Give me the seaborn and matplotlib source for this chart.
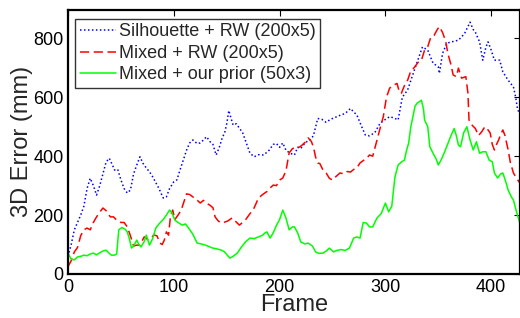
import matplotlib
matplotlib.use("Agg")
import matplotlib.pyplot as plt
import pandas as pd
import seaborn as sns

# values (frame, 3D error in mm)
sil_frames = [0, 3, 6, 9, 12, 15, 18, 21, 24, 27, 30, 33, 36, 39, 42, 44, 47, 50, 53, 56,
              59, 62, 65, 68, 71, 74, 77, 80, 83, 86, 90, 93, 96, 100, 103, 106, 109, 112, 115, 118,
              122, 125, 128, 131, 134, 137, 140, 143, 146, 148, 150, 152, 154, 156, 159, 162, 165, 168, 172, 176,
              180, 185, 190, 194, 197, 200, 203, 206, 210, 214, 217, 220, 223, 226, 229, 232, 236, 240, 244, 248,
              254, 258, 262, 267, 270, 273, 277, 281, 285, 290, 295, 300, 304, 308, 312, 316, 321, 328, 335, 340,
              345, 350, 351, 354, 358, 362, 365, 369, 372, 375, 378, 380, 383, 385, 389, 392, 395, 397, 400, 403,
              408, 411, 416, 421, 423, 425, 427]
sil_err = [60, 100, 150, 175, 200, 230, 290, 325, 300, 268, 300, 340, 380, 393, 370, 353, 355, 320, 290, 275,
           285, 340, 370, 398, 375, 360, 347, 330, 310, 290, 258, 262, 290, 313, 320, 355, 387, 420, 445, 455,
           443, 445, 455, 466, 450, 440, 404, 430, 465, 478, 510, 555, 530, 506, 510, 495, 480, 450, 410, 398,
           405, 404, 420, 440, 443, 430, 445, 420, 410, 404, 430, 426, 440, 450, 455, 470, 528, 525, 515, 525,
           534, 540, 545, 562, 550, 540, 505, 472, 469, 480, 512, 525, 534, 530, 523, 600, 625, 699, 771, 760,
           716, 703, 681, 749, 783, 788, 790, 794, 805, 818, 840, 855, 830, 821, 788, 726, 770, 788, 760, 726,
           726, 686, 658, 635, 602, 557, 546]

rw_frames = [0, 3, 6, 9, 12, 15, 18, 21, 24, 27, 30, 33, 36, 40, 43, 46, 50, 53, 56, 59,
             62, 65, 68, 72, 75, 78, 81, 84, 87, 89, 91, 93, 95, 97, 99, 101, 104, 107, 110, 112,
             115, 118, 122, 125, 128, 131, 134, 137, 139, 142, 145, 148, 151, 155, 158, 162, 165, 168, 172, 176,
             180, 184, 188, 191, 194, 197, 200, 203, 206, 209, 212, 215, 219, 222, 225, 227, 230, 232, 234, 236,
             238, 241, 244, 247, 250, 253, 257, 261, 264, 267, 270, 273, 276, 279, 282, 285, 288, 292, 295, 298,
             301, 304, 307, 311, 313, 315, 318, 321, 324, 327, 331, 334, 337, 340, 343, 346, 349, 351, 354, 357,
             359, 362, 364, 367, 369, 372, 376, 378, 379, 382, 385, 388, 391, 394, 396, 399, 401, 403, 405, 407,
             409, 411, 413, 416, 418, 421, 424, 427]
rw_err = [25, 45, 75, 90, 130, 150, 156, 150, 175, 194, 210, 224, 215, 194, 194, 183, 175, 175, 160, 130,
          95, 98, 98, 126, 118, 120, 132, 130, 105, 100, 115, 143, 132, 200, 217, 185, 200, 217, 250, 272,
          270, 262, 251, 241, 250, 240, 234, 225, 194, 180, 173, 176, 180, 190, 180, 166, 175, 185, 205, 225,
          258, 270, 280, 292, 302, 300, 319, 326, 350, 411, 425, 431, 431, 440, 450, 462, 450, 431, 397, 377,
          375, 353, 343, 325, 319, 330, 343, 340, 348, 346, 355, 360, 377, 385, 392, 404, 400, 455, 495, 534,
          600, 631, 640, 647, 620, 613, 640, 658, 690, 700, 719, 725, 760, 772, 805, 810, 830, 840, 820, 790,
          749, 710, 676, 670, 699, 665, 670, 614, 523, 505, 494, 470, 483, 500, 494, 479, 440, 421, 440, 455,
          475, 489, 470, 421, 380, 343, 325, 309]

prior_frames = [0, 3, 6, 9, 12, 15, 18, 21, 24, 27, 30, 33, 36, 39, 41, 44, 46, 48, 51, 54,
                56, 58, 60, 62, 65, 67, 69, 72, 74, 76, 77, 80, 83, 86, 90, 93, 96, 98, 101, 104,
                108, 111, 114, 118, 122, 126, 130, 134, 137, 141, 145, 148, 151, 153, 156, 160, 164, 168, 172, 176,
                180, 184, 186, 188, 191, 194, 197, 200, 203, 206, 209, 212, 214, 217, 220, 224, 227, 231, 234, 237,
                241, 244, 247, 251, 254, 258, 262, 266, 270, 273, 276, 279, 282, 285, 288, 292, 296, 300, 303, 306,
                309, 312, 315, 318, 320, 322, 324, 326, 328, 330, 334, 336, 337, 340, 342, 345, 348, 350, 353, 356,
                359, 362, 365, 367, 369, 371, 374, 377, 380, 383, 386, 389, 392, 395, 398, 401, 403, 406, 409, 411,
                414, 416, 419, 421, 424, 427]
prior_err = [71, 50, 48, 58, 60, 64, 62, 68, 71, 65, 72, 78, 81, 70, 64, 64, 68, 150, 158, 152,
             143, 120, 88, 95, 115, 100, 92, 110, 132, 110, 98, 120, 156, 170, 185, 200, 217, 210, 183, 175,
             166, 170, 156, 135, 105, 102, 98, 92, 88, 85, 81, 75, 62, 54, 60, 71, 92, 110, 122, 120,
             126, 132, 139, 143, 122, 140, 165, 185, 217, 190, 150, 160, 160, 140, 109, 102, 105, 95, 75, 70,
             71, 78, 88, 75, 80, 83, 80, 88, 122, 126, 122, 175, 173, 160, 160, 190, 205, 241, 211, 230,
             329, 370, 380, 387, 420, 445, 500, 534, 570, 580, 590, 560, 523, 500, 432, 410, 390, 370, 390, 415,
             443, 470, 494, 470, 438, 432, 480, 500, 455, 421, 449, 410, 415, 415, 387, 381, 343, 326, 340, 343,
             310, 285, 262, 251, 210, 173]

labels = ["Silhouette + RW (200x5)", "Mixed + RW (200x5)", "Mixed + our prior (50x3)"]
x_ticks = [0, 100, 200, 300, 400]
y_ticks = [0, 200, 400, 600, 800]

sns.set_style("white")
plt.rcParams["font.family"] = ["Liberation Sans", "DejaVu Sans"]

fig = plt.figure(figsize=(5.2, 3.18), dpi=100)
ax = fig.add_axes([68 / 520, 44 / 318, 452 / 520, 264.5 / 318])

series = [(sil_frames, sil_err, "#0000ff", (0, (1, 1.6))),
          (rw_frames, rw_err, "#ff0000", (0, (6, 3))),
          (prior_frames, prior_err, "#00ff00", "-")]
for (fr, err, col, ls), lab in zip(series, labels):
    df = pd.DataFrame({"frame": fr, "err": err})
    sns.lineplot(data=df, x="frame", y="err", ax=ax, color=col, linestyle=ls,
                 linewidth=1.1, label=lab)

ax.set_xlim(0, 427.2)
ax.set_ylim(0, 898)
ax.set_xticks(x_ticks)
ax.set_yticks(y_ticks)
ax.tick_params(direction="in", length=4, width=0.8, labelsize=13, top=True, right=True,
               colors="black")
ax.tick_params(axis="x", pad=3.5)
ax.tick_params(axis="y", pad=3)
ax.set_xlabel("Frame", fontsize=17, labelpad=-1)
ax.set_ylabel("3D Error (mm)", fontsize=17, labelpad=0)
for s in ax.spines.values():
    s.set_color("black")
    s.set_linewidth(1.6)

leg = ax.legend(loc="upper left", bbox_to_anchor=(0.004, 0.985), fontsize=13,
                frameon=True, fancybox=False, handlelength=2.0, handletextpad=0.15,
                borderpad=0.25, labelspacing=0.25, borderaxespad=0.3)
leg.get_frame().set_edgecolor("black")
leg.get_frame().set_linewidth(1.0)

fig.savefig("out.png", dpi=100)
